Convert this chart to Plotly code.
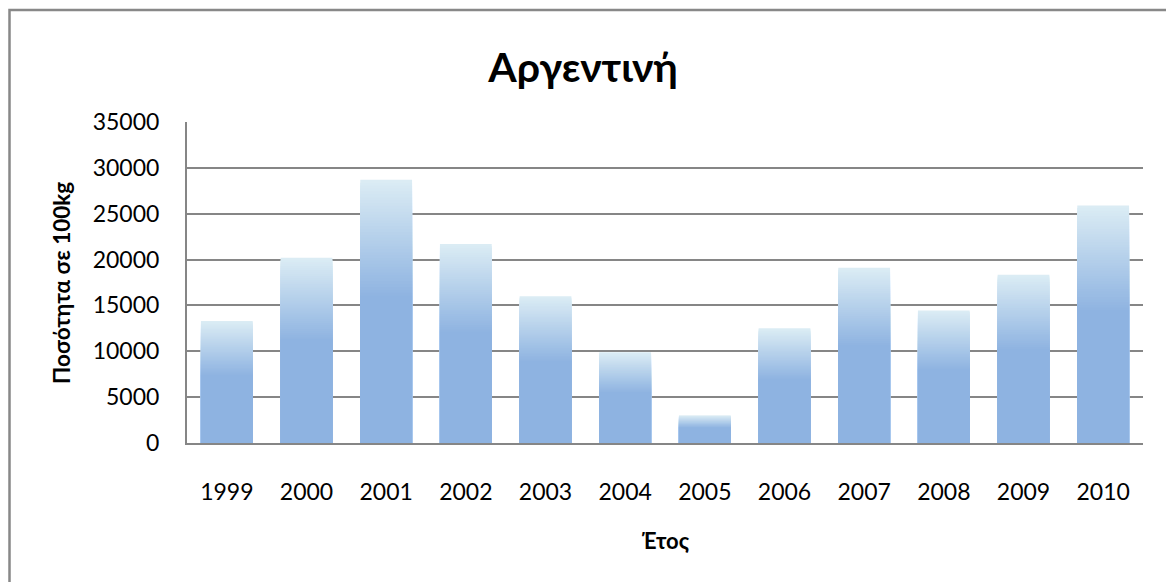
import plotly.graph_objects as go

years = ["1999", "2000", "2001", "2002", "2003", "2004", "2005", "2006", "2007", "2008", "2009", "2010"]
values = [13300, 20200, 28700, 21700, 16000, 9900, 3000, 12500, 19100, 14450, 18350, 25900]
y_ticks = [0, 5000, 10000, 15000, 20000, 25000, 30000, 35000]
y_tick_labels = ["0", "5000", "10000", "15000", "20000", "25000", "30000", "35000"]

title_text = "Αργεντινή"
x_title = "Έτος"
y_title = "Ποσότητα σε 100kg"

FONT = "Lato, 'Open Sans', 'Noto Sans', sans-serif"
top_rgb = (219, 236, 244)
solid_rgb = (142, 179, 225)
solid_frac = 0.56
N = 40

fig = go.Figure()
for i in range(N):
    t = i / N
    h = 1 - (1 - solid_frac) * t
    c = tuple(int(round(top_rgb[k] + (solid_rgb[k] - top_rgb[k]) * t)) for k in range(3))
    fig.add_trace(go.Bar(
        x=years, y=[v * h for v in values],
        marker=dict(color="rgb(%d,%d,%d)" % c, line=dict(width=0)),
        hoverinfo="skip", showlegend=False,
    ))
fig.add_trace(go.Bar(
    x=years, y=[v * solid_frac for v in values],
    marker=dict(color="rgb(%d,%d,%d)" % solid_rgb, line=dict(width=0)),
    showlegend=False, customdata=values,
    hovertemplate="%{x}: %{customdata}<extra></extra>",
))

fig.update_layout(
    width=1166, height=582,
    margin=dict(l=187, r=23, t=122, b=139),
    paper_bgcolor="white", plot_bgcolor="white",
    barmode="overlay", bargap=0.35,
    font=dict(family=FONT, color="#000000"),
    title=dict(text="<b>%s</b>" % title_text, x=0.5, xanchor="center",
               y=1 - 68 / 582, yanchor="middle", yref="container",
               font=dict(size=41, family=FONT, color="#000000")),
    xaxis=dict(showgrid=False, showline=True, linecolor="#868686", linewidth=2,
               ticks="", tickfont=dict(size=23), ticklabelstandoff=27,
               fixedrange=True),
    yaxis=dict(range=[0, 35000], tickvals=y_ticks, ticktext=y_tick_labels,
               showgrid=True, gridcolor="#868686", gridwidth=1.5, showline=True,
               linecolor="#868686", linewidth=2, ticks="",
               tickfont=dict(size=23), ticklabelstandoff=21, zeroline=False,
               fixedrange=True),
    annotations=[
        dict(text="<b>%s</b>" % x_title, xref="paper", yref="paper",
             x=0.5, y=-(540 - 443) / 321, xanchor="center", yanchor="middle",
             showarrow=False, font=dict(size=22)),
        dict(text="<b>%s</b>" % y_title, xref="paper", yref="paper",
             x=-(187 - 61) / 956, y=(443 - 283) / 321, xanchor="center",
             yanchor="middle", textangle=-90, showarrow=False,
             font=dict(size=22.5)),
    ],
    shapes=[dict(type="rect", xref="paper", yref="paper",
                 x0=-(187 - 9.5) / 956, y0=-(600 - 443) / 321,
                 x1=(1180 - 187) / 956, y1=(443 - 10) / 321,
                 line=dict(color="#888888", width=2.5), fillcolor="rgba(0,0,0,0)",
                 layer="below")],
)

fig.write_html("out.html", config={"displayModeBar": False},
               post_script="document.body.style.margin='0px';document.body.style.overflow='hidden';")
